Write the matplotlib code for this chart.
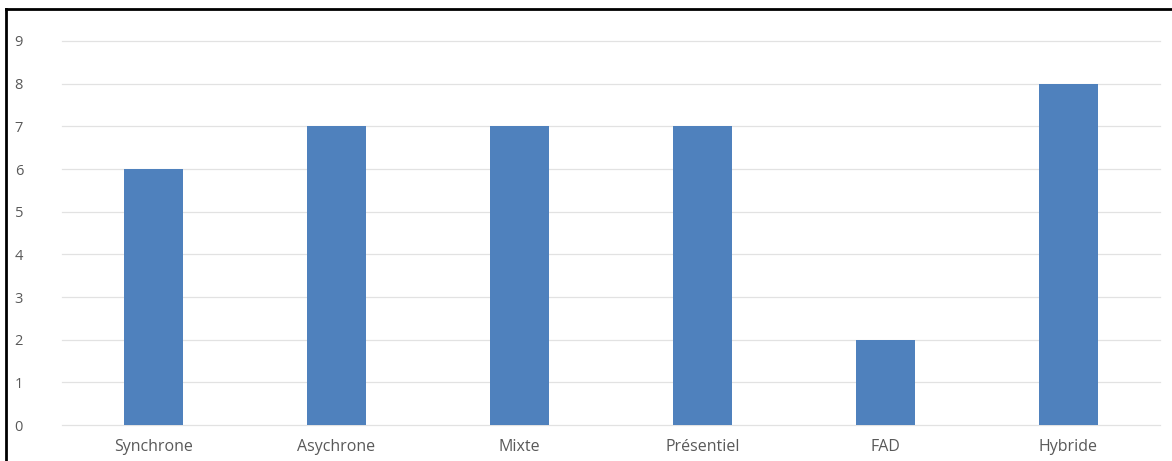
import matplotlib
matplotlib.use('Agg')
import matplotlib.pyplot as plt
from matplotlib.lines import Line2D

categories = ['Synchrone', 'Asychrone', 'Mixte', 'Présentiel', 'FAD', 'Hybride']
values = [6, 7, 7, 7, 2, 8]
yticks = list(range(0, 10))

plt.rcParams['font.family'] = ['Open Sans', 'DejaVu Sans']

fig = plt.figure(figsize=(11.72, 4.61), dpi=100)
ax = fig.add_axes([62/1172, 36/461, (1160-62)/1172, (425-41)/461])

x = range(len(categories))
ax.bar(x, values, width=0.32, color='#4F81BD', zorder=3)

ax.set_xlim(-0.5, len(categories) - 0.5)
ax.set_ylim(0, 9)
ax.set_yticks(yticks)
ax.set_xticks(list(x))
ax.set_xticklabels(categories)
ax.grid(axis='y', color='#e2e2e2', lw=0.9, zorder=0)
for gl in ax.get_ygridlines():
    gl.set_clip_on(False)
for s in ax.spines.values():
    s.set_visible(False)
ax.tick_params(axis='both', length=0, labelcolor='#595959')
ax.tick_params(axis='x', labelsize=11.5, pad=10)
ax.tick_params(axis='y', labelsize=10.5, pad=28)

# outer frame (left and top edges)
fig.add_artist(Line2D([5.5/1172, 5.5/1172], [0, 1 - 9/461], color='black', lw=2))
fig.add_artist(Line2D([5.5/1172, 1], [1 - 9/461, 1 - 9/461], color='black', lw=2))

fig.savefig('out.png', dpi=100)
